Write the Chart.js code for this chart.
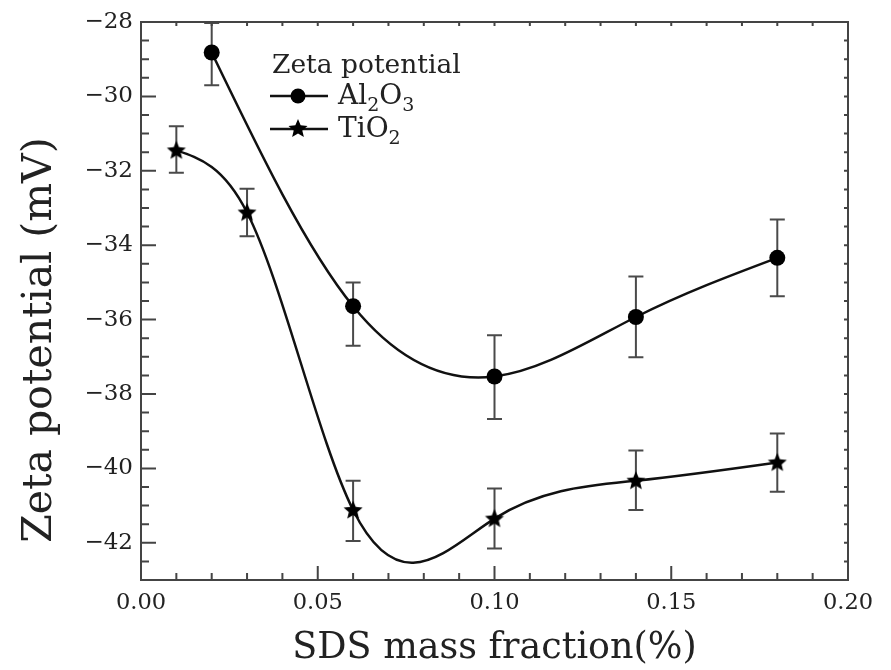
<!DOCTYPE html>
<html><head><meta charset="utf-8">
<script src="https://cdn.jsdelivr.net/npm/chart.js@4"></script>
<style>html,body{margin:0;padding:0;background:#fff;} #wrap{width:891px;height:670px;}</style>
</head><body><div id="wrap"><canvas id="c" width="891" height="670"></canvas></div>
<script>
const xAl2O3 = [0.02, 0.06, 0.10, 0.14, 0.18];
const yAl2O3 = [-28.82, -35.64, -37.53, -35.93, -34.34];
const errUpAl2O3 = [0.79, 0.64, 1.11, 1.09, 1.03];
const errDownAl2O3 = [0.88, 1.06, 1.14, 1.08, 1.03];
const xTiO2 = [0.01, 0.03, 0.06, 0.10, 0.14, 0.18];
const yTiO2 = [-31.45, -33.12, -41.12, -41.35, -40.33, -39.84];
const errUpTiO2 = [0.65, 0.64, 0.79, 0.81, 0.81, 0.78];
const errDownTiO2 = [0.60, 0.64, 0.83, 0.80, 0.79, 0.79];
const xTickValues = [0, 0.05, 0.10, 0.15, 0.20];
const yTickValues = [-42, -40, -38, -36, -34, -32, -30, -28];
const xAxisTitle = 'SDS mass fraction(%)';
const yAxisTitle = 'Zeta potential (mV)';
const legendTitle = 'Zeta potential';

const FONT = '"DejaVu Serif", "Liberation Serif", serif';
const INK = '#111';
const AXIS = '#444';

function drawStar(g, cx, cy, r) {
  g.save();
  g.beginPath();
  for (let i = 0; i < 10; i++) {
    const rr = i % 2 === 0 ? r : r * 0.45;
    const a = -Math.PI / 2 + i * Math.PI / 5;
    const px = cx + rr * Math.cos(a), py = cy + rr * Math.sin(a);
    if (i === 0) g.moveTo(px, py); else g.lineTo(px, py);
  }
  g.closePath();
  g.fillStyle = '#000';
  g.fill();
  g.restore();
}
function makeStar(r) {
  const c = document.createElement('canvas');
  const s = Math.ceil(2 * r + 2);
  c.width = s; c.height = s;
  drawStar(c.getContext('2d'), s / 2, s / 2 + 0.5, r);
  return c;
}
const starImg = makeStar(10);

const toPts = (xs, ys) => xs.map((x, i) => ({ x: x, y: ys[i] }));

// Smooth "spline" connection: set Bezier control points of the library's line
// so that the curve through the data points is a natural cubic spline.
const splinePlugin = {
  id: 'splineConnect',
  beforeDatasetsDraw(chart) {
    chart.data.datasets.forEach((ds, di) => {
      const meta = chart.getDatasetMeta(di);
      const pts = meta.data;
      const n = pts.length;
      if (n < 3) return;
      const X = pts.map(p => p.x), Y = pts.map(p => p.y);
      const h = [];
      for (let i = 0; i < n - 1; i++) h.push(X[i + 1] - X[i]);
      // solve for second derivatives M (natural: M0 = Mn-1 = 0)
      const a = new Array(n).fill(0), b = new Array(n).fill(1), c = new Array(n).fill(0), d = new Array(n).fill(0);
      for (let i = 1; i < n - 1; i++) {
        a[i] = h[i - 1]; b[i] = 2 * (h[i - 1] + h[i]); c[i] = h[i];
        d[i] = 6 * ((Y[i + 1] - Y[i]) / h[i] - (Y[i] - Y[i - 1]) / h[i - 1]);
      }
      for (let i = 1; i < n; i++) {
        const m = a[i] / b[i - 1];
        b[i] -= m * c[i - 1];
        d[i] -= m * d[i - 1];
      }
      const M = new Array(n).fill(0);
      M[n - 1] = d[n - 1] / b[n - 1];
      for (let i = n - 2; i >= 0; i--) M[i] = (d[i] - c[i] * M[i + 1]) / b[i];
      const slope = new Array(n);
      for (let i = 0; i < n - 1; i++) slope[i] = (Y[i + 1] - Y[i]) / h[i] - h[i] * (2 * M[i] + M[i + 1]) / 6;
      slope[n - 1] = (Y[n - 1] - Y[n - 2]) / h[n - 2] + h[n - 2] * (M[n - 2] + 2 * M[n - 1]) / 6;
      for (let i = 0; i < n; i++) {
        const p = pts[i];
        const hp = i > 0 ? h[i - 1] : 0, hn = i < n - 1 ? h[i] : 0;
        p.cp1x = X[i] - hp / 3; p.cp1y = Y[i] - slope[i] * hp / 3;
        p.cp2x = X[i] + hn / 3; p.cp2y = Y[i] + slope[i] * hn / 3;
      }
      meta.dataset._pointsUpdated = true;
      meta.dataset._path = undefined;
    });
  }
};

const errorBarPlugin = {
  id: 'errorBars',
  beforeDatasetsDraw(chart) {
    const { ctx, scales: { x, y } } = chart;
    const sets = [[xAl2O3, yAl2O3, errUpAl2O3, errDownAl2O3], [xTiO2, yTiO2, errUpTiO2, errDownTiO2]];
    ctx.save();
    ctx.strokeStyle = '#4a4a4a';
    ctx.lineWidth = 2;
    sets.forEach(([xs, ys, up, dn]) => {
      xs.forEach((xv, i) => {
        const px = x.getPixelForValue(xv);
        const pt = y.getPixelForValue(ys[i] + up[i]);
        const pb = y.getPixelForValue(ys[i] - dn[i]);
        ctx.beginPath();
        ctx.moveTo(px, pt); ctx.lineTo(px, pb);
        ctx.moveTo(px - 7.5, pt); ctx.lineTo(px + 7.5, pt);
        ctx.moveTo(px - 7.5, pb); ctx.lineTo(px + 7.5, pb);
        ctx.stroke();
      });
    });
    ctx.restore();
  }
};

const frameTicksPlugin = {
  id: 'frameTicks',
  afterDraw(chart) {
    const { ctx, chartArea: a, scales: { x, y } } = chart;
    ctx.save();
    ctx.strokeStyle = AXIS;
    ctx.lineWidth = 2;
    ctx.strokeRect(a.left, a.top, a.right - a.left, a.bottom - a.top);
    ctx.beginPath();
    for (let i = 0; i <= 20; i++) {
      const px = x.getPixelForValue(i * 0.01);
      const major = i % 5 === 0;
      ctx.moveTo(px, a.bottom); ctx.lineTo(px, a.bottom - (major ? 14 : 7));
      ctx.moveTo(px, a.top); ctx.lineTo(px, a.top + 4);
    }
    for (let j = 0; j <= 30; j++) {
      const v = -43 + j * 0.5;
      const py = y.getPixelForValue(v);
      const major = (j % 4 === 2);
      ctx.moveTo(a.left, py); ctx.lineTo(a.left + (major ? 15 : 8), py);
      ctx.moveTo(a.right, py); ctx.lineTo(a.right - 4, py);
    }
    ctx.stroke();

    // axis titles
    ctx.fillStyle = '#222';
    ctx.textAlign = 'center';
    ctx.textBaseline = 'alphabetic';
    ctx.font = '36.5px ' + FONT;
    ctx.fillText(xAxisTitle, (a.left + a.right) / 2, 658);
    ctx.save();
    ctx.translate(51, 340);
    ctx.rotate(-Math.PI / 2);
    ctx.font = '41px ' + FONT;
    ctx.fillText(yAxisTitle, 0, 0);
    ctx.restore();

    // legend
    ctx.textAlign = 'left';
    ctx.font = '26.5px ' + FONT;
    ctx.fillText(legendTitle, 272, 73);
    const drawSubText = (parts, x0, base) => {
      let cx = x0;
      parts.forEach(([t, sub]) => {
        ctx.font = (sub ? '19px ' : '28px ') + FONT;
        ctx.fillText(t, cx, base + (sub ? 7 : 0));
        cx += ctx.measureText(t).width;
      });
    };
    ctx.strokeStyle = INK;
    ctx.lineWidth = 2.5;
    ctx.beginPath();
    ctx.moveTo(270, 96); ctx.lineTo(328, 96);
    ctx.moveTo(270, 129); ctx.lineTo(328, 129);
    ctx.stroke();
    ctx.fillStyle = '#000';
    ctx.beginPath(); ctx.arc(298, 96, 7.5, 0, Math.PI * 2); ctx.fill();
    drawStar(ctx, 298, 129, 10);
    ctx.fillStyle = '#222';
    drawSubText([['Al', false], ['2', true], ['O', false], ['3', true]], 338, 104);
    drawSubText([['TiO', false], ['2', true]], 338, 137);
    ctx.restore();
  }
};

new Chart(document.getElementById('c'), {
  type: 'line',
  data: {
    datasets: [
      {
        label: 'Al2O3',
        data: toPts(xAl2O3, yAl2O3),
        borderColor: INK, borderWidth: 2.5,
        pointStyle: 'circle', pointRadius: 8,
        pointBackgroundColor: '#000', pointBorderColor: '#000', pointBorderWidth: 0,
        tension: 0.4, fill: false
      },
      {
        label: 'TiO2',
        data: toPts(xTiO2, yTiO2),
        borderColor: INK, borderWidth: 2.5,
        pointStyle: starImg, pointRadius: 9,
        tension: 0.4, fill: false
      }
    ]
  },
  options: {
    responsive: false,
    animation: false,
    layout: { padding: { top: 22, right: 43, left: 0, bottom: 0 } },
    plugins: { legend: { display: false }, tooltip: { enabled: false } },
    scales: {
      x: {
        type: 'linear', min: 0, max: 0.2,
        afterBuildTicks: s => { s.ticks = xTickValues.map(v => ({ value: v })); },
        afterFit: s => { s.height = 90; },
        ticks: { callback: v => Number(v).toFixed(2), font: { family: FONT, size: 22.5 }, color: '#222', padding: 10, maxRotation: 0, autoSkip: false },
        grid: { display: false, drawTicks: false },
        border: { display: false }
      },
      y: {
        type: 'linear', min: -43, max: -28,
        afterBuildTicks: s => { s.ticks = yTickValues.map(v => ({ value: v })); },
        afterFit: s => { s.width = 141; },
        ticks: { callback: v => (v < 0 ? '\u2212' : '') + Math.abs(v), font: { family: FONT, size: 23 }, color: '#222', padding: 8, autoSkip: false },
        grid: { display: false, drawTicks: false },
        border: { display: false }
      }
    }
  },
  plugins: [errorBarPlugin, splinePlugin, frameTicksPlugin]
});
</script>
</body></html>
